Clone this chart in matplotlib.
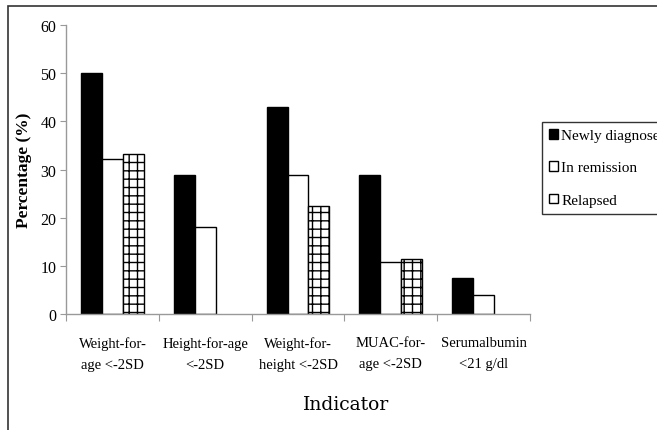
import numpy as np
import matplotlib
matplotlib.use('Agg')
import matplotlib.pyplot as plt
from matplotlib.patches import Rectangle

# Data
indicators = ['Weight-for-\nage <-2SD', 'Height-for-age\n<-2SD', 'Weight-for-\nheight <-2SD',
              'MUAC-for-\nage <-2SD', 'Serumalbumin\n<21 g/dl']
newly_diagnosed = [50, 28.8, 43, 28.8, 7.5]
in_remission = [32.2, 18, 28.8, 10.8, 3.9]
relapsed = [33.3, 0, 22.5, 11.4, 0]

plt.rcParams['font.family'] = ['Liberation Serif', 'DejaVu Serif']
plt.rcParams['hatch.linewidth'] = 1.0

fig = plt.figure(figsize=(6.57, 4.31), dpi=100)
ax = fig.add_axes([0.1005, 0.2691, 0.7062, 0.6706])

bar_width = 0.225
x = np.arange(len(indicators))


def widths(vals):
    # bars with no value are not drawn at all
    return [1 if v > 0 else 0 for v in vals]


ax.bar(x - bar_width, newly_diagnosed, width=bar_width, color='black', edgecolor='black',
       linewidth=widths(newly_diagnosed), label='Newly diagnosed')
ax.bar(x, in_remission, width=bar_width, color='white', edgecolor='black',
       linewidth=widths(in_remission), label='In remission')
ax.bar(x + bar_width, relapsed, width=bar_width, color='white', edgecolor='black',
       linewidth=widths(relapsed), hatch='++', label='Relapsed')

ax.set_xlim(-0.5, len(indicators) - 0.5)
ax.set_ylim(0, 60)
ax.set_yticks([0, 10, 20, 30, 40, 50, 60])
ax.set_xticks(np.arange(-0.5, len(indicators), 1.0))
ax.set_xticklabels([])
ax.set_xticks(x, minor=True)
ax.set_xticklabels(indicators, minor=True, fontsize=10.5, linespacing=1.75)
ax.tick_params(axis='x', which='minor', length=0, pad=16)
ax.tick_params(axis='x', which='major', length=5, color='#999999', direction='out')
ax.tick_params(axis='y', length=4, color='#999999', labelsize=11.5, pad=3)

for s in ['top', 'right']:
    ax.spines[s].set_visible(False)
for s in ['left', 'bottom']:
    ax.spines[s].set_color('#999999')
    ax.spines[s].set_linewidth(1)

ax.set_ylabel('Percentage (%)', fontsize=12.5, fontweight='bold', labelpad=6)
fig.text(0.527, 0.06, 'Indicator', ha='center', va='center', fontsize=13.5,
         family='DejaVu Serif')

# the legend runs past the right edge, as in the original
leg = fig.legend(loc='upper left', bbox_to_anchor=(0.825, 0.7146), frameon=True,
                 fancybox=False, edgecolor='black', fontsize=11, handlelength=0.6,
                 handleheight=0.6, handletextpad=0.2, labelspacing=1.25,
                 borderpad=0.45, borderaxespad=0)
leg.get_frame().set_linewidth(1)
for h in leg.legend_handles:
    h.set_linewidth(1)
leg.legend_handles[2].set_hatch(None)

# outer frame around the figure
fig.patches.append(Rectangle((8 / 657, -0.1), 1.2, 1 - 7 / 431 + 0.1, transform=fig.transFigure,
                             fill=False, edgecolor='#333333', linewidth=1.2))

fig.savefig('out.png', dpi=100)
